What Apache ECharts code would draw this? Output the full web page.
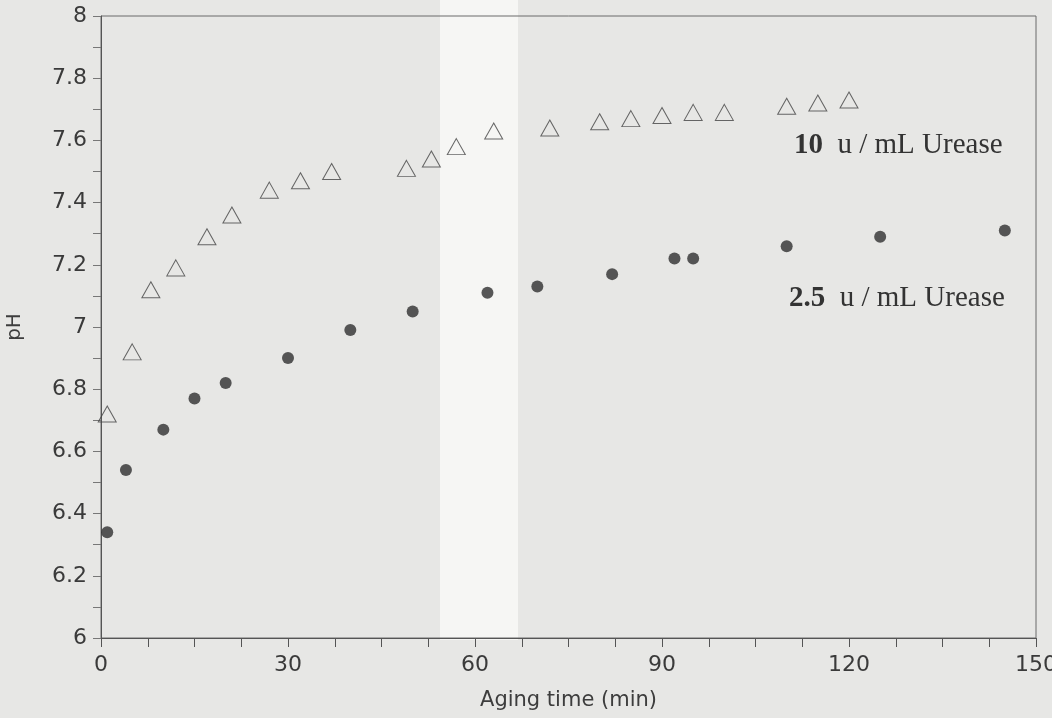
<!DOCTYPE html>
<html>
<head>
<meta charset="utf-8">
<title>pH vs aging time</title>
<script src="https://cdn.jsdelivr.net/npm/echarts@6/dist/echarts.min.js"></script>
<style>
  html, body { margin: 0; padding: 0; background: #e7e7e5; }
  #chart { width: 1052px; height: 718px; }
</style>
</head>
<body>
<div id="chart"></div>
<script>
// 10 u/mL urease (open triangles)
var timeHigh = [1, 5, 8, 12, 17, 21, 27, 32, 37, 49, 53, 57, 63, 72, 80, 85, 90, 95, 100, 110, 115, 120];
var phHigh = [6.72, 6.92, 7.12, 7.19, 7.29, 7.36, 7.44, 7.47, 7.50, 7.51, 7.54, 7.58, 7.63, 7.64, 7.66, 7.67, 7.68, 7.69, 7.69, 7.71, 7.72, 7.73];

// 2.5 u/mL urease (filled circles)
var timeLow = [1, 4, 10, 15, 20, 30, 40, 50, 62, 70, 82, 92, 95, 110, 125, 145];
var phLow = [6.34, 6.54, 6.67, 6.77, 6.82, 6.90, 6.99, 7.05, 7.11, 7.13, 7.17, 7.22, 7.22, 7.26, 7.29, 7.31];

var xTicks = [0, 30, 60, 90, 120, 150];
var yTicks = [6, 6.2, 6.4, 6.6, 6.8, 7, 7.2, 7.4, 7.6, 7.8, 8];

function pairs(xs, ys) {
  return xs.map(function (x, i) { return [x, ys[i]]; });
}

var axisFont = 'DejaVu Sans, sans-serif';
var noteFont = '29px "Liberation Serif", serif';
var chart = echarts.init(document.getElementById('chart'));

chart.setOption({
  backgroundColor: '#e7e7e5',
  animation: false,
  grid: {
    left: 101,
    right: 16,
    top: 16,
    bottom: 80,
    outerBoundsMode: 'none',
    containLabel: false,
    show: true,
    borderColor: '#6a6a6a',
    borderWidth: 1,
    backgroundColor: 'transparent'
  },
  graphic: [
    {
      // scan artefact: lighter vertical band
      type: 'rect',
      z: -10,
      shape: { x: 440, y: 0, width: 78, height: 640 },
      style: { fill: '#f6f6f4' }
    },
    {
      type: 'text',
      left: 794,
      top: 131,
      style: {
        text: '{b|10}  u / mL Urease',
        font: noteFont,
        fill: '#333',
        rich: { b: { fontWeight: 'bold', fontSize: 29, fontFamily: 'Liberation Serif' } }
      }
    },
    {
      type: 'text',
      left: 789,
      top: 284,
      style: {
        text: '{b|2.5}  u / mL Urease',
        font: noteFont,
        fill: '#333',
        rich: { b: { fontWeight: 'bold', fontSize: 29, fontFamily: 'Liberation Serif' } }
      }
    }
  ],
  xAxis: {
    type: 'value',
    min: xTicks[0],
    max: xTicks[xTicks.length - 1],
    interval: 30,
    name: 'Aging time (min)',
    nameLocation: 'middle',
    nameGap: 52,
    nameTextStyle: { fontFamily: axisFont, fontSize: 21, color: '#3d3d3d' },
    axisLine: { lineStyle: { color: '#555', width: 1 } },
    axisTick: { length: 9, lineStyle: { color: '#555' } },
    minorTick: { show: true, splitNumber: 4, length: 9, lineStyle: { color: '#555' } },
    axisLabel: { fontFamily: axisFont, fontSize: 22, color: '#3a3a3a', margin: 16 },
    splitLine: { show: false }
  },
  yAxis: {
    type: 'value',
    min: yTicks[0],
    max: yTicks[yTicks.length - 1],
    interval: 0.2,
    name: 'pH',
    nameLocation: 'middle',
    nameGap: 76,
    nameRotate: 90,
    nameTextStyle: { fontFamily: axisFont, fontSize: 20, color: '#3d3d3d' },
    axisLine: { show: true, lineStyle: { color: '#555', width: 1 } },
    axisTick: { show: true, length: 8, lineStyle: { color: '#777' } },
    minorTick: { show: true, splitNumber: 2, length: 8, lineStyle: { color: '#777' } },
    axisLabel: { fontFamily: axisFont, fontSize: 22, color: '#3a3a3a', margin: 14 },
    splitLine: { show: false }
  },
  series: [
    {
      name: '10 u / mL Urease',
      type: 'scatter',
      symbol: 'triangle',
      symbolSize: [18, 16],
      itemStyle: { color: 'rgba(0,0,0,0)', borderColor: '#444', borderWidth: 1 },
      data: pairs(timeHigh, phHigh)
    },
    {
      name: '2.5 u / mL Urease',
      type: 'scatter',
      symbol: 'circle',
      symbolSize: 12,
      itemStyle: { color: '#2f2f2f' },
      data: pairs(timeLow, phLow)
    }
  ]
});
</script>
</body>
</html>
